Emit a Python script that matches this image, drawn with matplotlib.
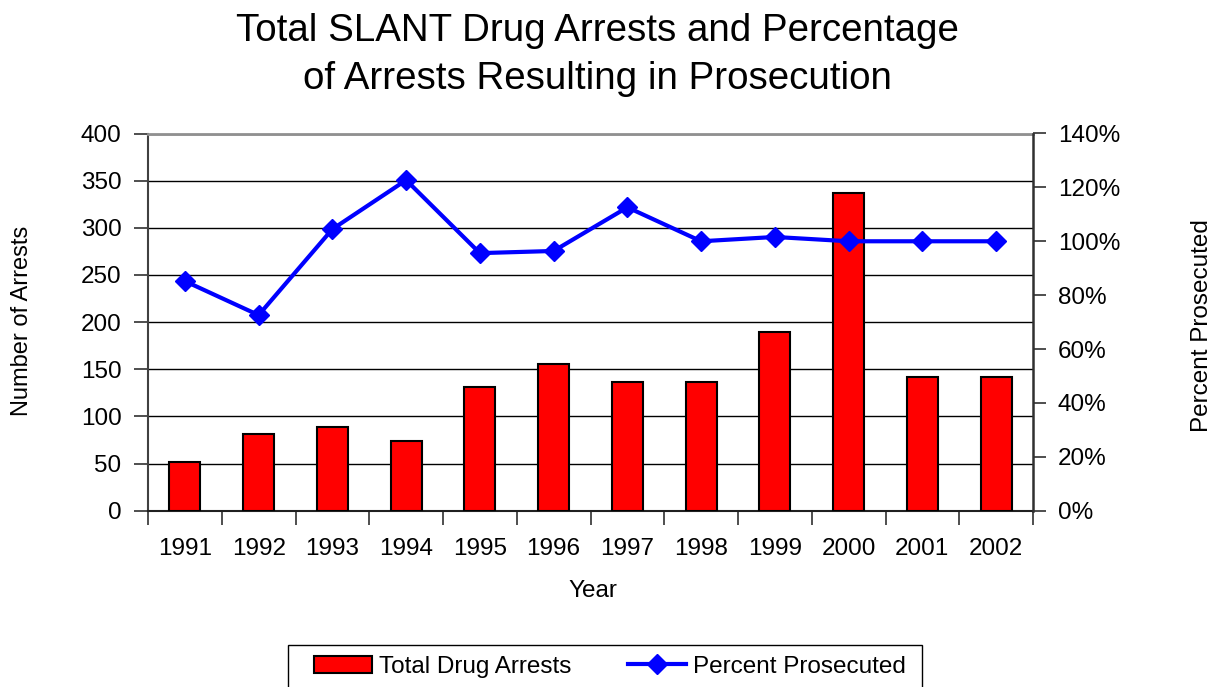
import matplotlib
matplotlib.use("Agg")
import matplotlib.pyplot as plt
from matplotlib.patches import Rectangle
from matplotlib.ticker import MultipleLocator, FuncFormatter, FixedLocator

plt.rcParams['font.family'] = ['Liberation Sans', 'DejaVu Sans']

years = ['1991', '1992', '1993', '1994', '1995', '1996',
         '1997', '1998', '1999', '2000', '2001', '2002']
arrests = [52, 81, 89, 74, 131, 156, 137, 137, 189, 337, 142, 142]
pct_prosecuted = [85.2, 72.6, 104.5, 122.7, 95.6, 96.4,
                  112.6, 100.0, 101.6, 100.0, 100.0, 100.0]

W, H = 1217, 687
fig = plt.figure(figsize=(W / 100, H / 100), dpi=100)
ax = fig.add_axes([148 / W, 1 - 510.7 / H, (1033 - 148) / W, (510.7 - 133.5) / H])

x = list(range(len(years)))
ax.bar(x, arrests, width=0.42, color='#FF0000', edgecolor='black',
       linewidth=1.5, zorder=3, label='Total Drug Arrests')

ax.set_xlim(-0.5, len(years) - 0.5)
ax.set_ylim(0, 400)
ax.yaxis.set_major_locator(MultipleLocator(50))
ax.grid(axis='y', color='black', linewidth=1.0, zorder=0)
ax.set_axisbelow(True)

# category labels at centres, tick marks at category boundaries
ax.set_xticks(x)
ax.set_xticklabels(years)
ax.xaxis.set_minor_locator(FixedLocator([i - 0.5 for i in range(len(years) + 1)]))
ax.tick_params(axis='x', which='major', length=0, pad=20, labelsize=17.5)
ax.tick_params(axis='x', which='minor', length=10, width=1.2, direction='out', color='#303030')
ax.tick_params(axis='y', length=10, width=1.2, direction='out', pad=9, labelsize=17.5, color='#303030')

ax.spines['top'].set_color('#909090')
ax.spines['top'].set_linewidth(2)
ax.spines['left'].set_color('#404040')
ax.spines['left'].set_linewidth(1.5)
ax.spines['bottom'].set_color('#202020')
ax.spines['bottom'].set_linewidth(1.5)
ax.spines['right'].set_visible(False)

ax2 = ax.twinx()
ax2.plot(x, [p / 100 for p in pct_prosecuted], color='#0000FF', linewidth=3,
         marker='D', markersize=10, markerfacecolor='#0000FF',
         markeredgecolor='#0000FF', zorder=4, label='Percent Prosecuted')
ax2.set_ylim(0, 1.4)
ax2.yaxis.set_major_locator(MultipleLocator(0.2))
ax2.yaxis.set_major_formatter(FuncFormatter(lambda v, _: f"{v * 100:.0f}%"))
ax2.tick_params(axis='y', length=9, width=1.2, direction='out', pad=9, labelsize=17.5, color='#303030')
for side in ('top', 'left', 'bottom'):
    ax2.spines[side].set_visible(False)
ax2.spines['right'].set_color('#303030')
ax2.spines['right'].set_linewidth(1.8)

fig.text(21.7 / W, 1 - 321 / H, 'Number of Arrests', rotation=90,
         ha='center', va='center', fontsize=17)
fig.text(1202 / W, 1 - 326 / H, 'Percent Prosecuted', rotation=90,
         ha='center', va='center', fontsize=17.5)
fig.text(593 / W, 1 - 591 / H, 'Year', ha='center', va='center', fontsize=17.5)

fig.text(597 / W, 1 - 55 / H,
         'Total SLANT Drug Arrests and Percentage\nof Arrests Resulting in Prosecution',
         ha='center', va='center', fontsize=27.7, linespacing=1.4)

# legend box runs off the bottom edge of the figure
fig.patches.append(Rectangle((288 / W, -0.05), (922 - 288) / W, 0.05 + 1 - 645 / H,
                             transform=fig.transFigure, facecolor='white',
                             edgecolor='black', linewidth=1.0, zorder=1))

h1, l1 = ax.get_legend_handles_labels()
h2, l2 = ax2.get_legend_handles_labels()
leg = fig.legend(h1 + h2, l1 + l2, loc='upper center',
                 bbox_to_anchor=(610 / W, 1 - 645 / H), ncol=2, fontsize=17.5,
                 frameon=False, handlelength=2.4, handletextpad=0.3,
                 columnspacing=2.3, borderpad=0.45, borderaxespad=0)
leg.set_zorder(2)

fig.savefig('out.png', dpi=100)
